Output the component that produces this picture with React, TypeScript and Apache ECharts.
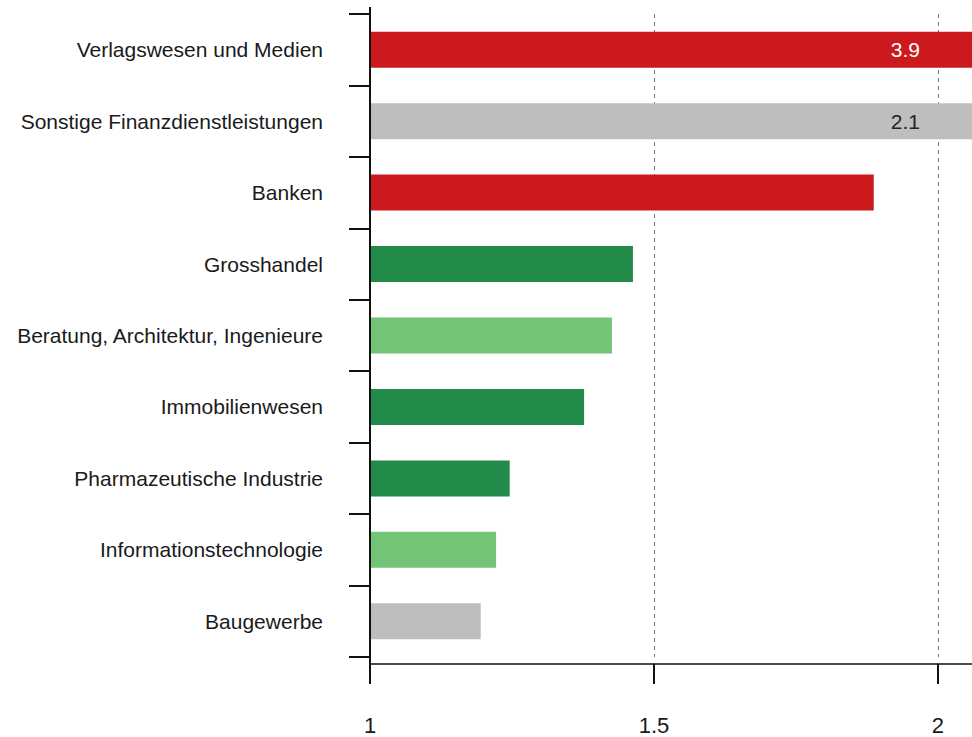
import React, { useEffect, useRef } from "react";
import * as echarts from "echarts";

const categories = [
  "Verlagswesen und Medien",
  "Sonstige Finanzdienstleistungen",
  "Banken",
  "Grosshandel",
  "Beratung, Architektur, Ingenieure",
  "Immobilienwesen",
  "Pharmazeutische Industrie",
  "Informationstechnologie",
  "Baugewerbe",
];
const values = [3.9, 2.1, 1.887, 1.463, 1.426, 1.377, 1.246, 1.222, 1.195];
const colors = [
  "#cc191e",
  "#bebebe",
  "#cc191e",
  "#238b4a",
  "#73c476",
  "#238b4a",
  "#238b4a",
  "#73c476",
  "#bebebe",
];
const labelColors = ["#ffffff", "#222222", "", "", "", "", "", "", ""];
const xTicks = [1, 1.5, 2];
const xMin = 1;
const xMax = 2.06;

export default function App() {
  const ref = useRef<HTMLDivElement>(null);
  useEffect(() => {
    if (!ref.current) return;
    const chart = echarts.init(ref.current, null, { renderer: "svg" });
    const font = "Liberation Sans";
    chart.setOption({
      animation: false,
      backgroundColor: "#ffffff",
      grid: { left: 370, right: 0, top: 14, bottom: 80, containLabel: false },
      xAxis: {
        type: "value",
        min: xMin,
        max: xMax,
        interval: 0.5,
        position: "bottom",
        offset: 7,
        axisLine: { show: true, lineStyle: { color: "#111", width: 1.5 } },
        axisTick: {
          show: true,
          inside: false,
          length: 20,
          customValues: xTicks,
          lineStyle: { color: "#111", width: 2 },
        },
        axisLabel: {
          customValues: xTicks,
          margin: 50,
          fontFamily: font,
          fontSize: 22,
          color: "#1a1a1a",
          formatter: (v: number) => String(v),
        },
        splitLine: {
          show: true,
          showMinLine: false,
          showMaxLine: true,
          lineStyle: { color: "#777", type: [4, 4], width: 1 },
        },
      },
      yAxis: {
        type: "category",
        inverse: true,
        data: categories,
        axisLine: { show: true, lineStyle: { color: "#111", width: 2 } },
        axisTick: {
          show: true,
          inside: false,
          length: 21,
          lineStyle: { color: "#111", width: 2 },
        },
        axisLabel: {
          margin: 47,
          fontFamily: font,
          fontSize: 21,
          color: "#1a1a1a",
        },
        splitLine: { show: false },
      },
      graphic: [
        {
          type: "line",
          shape: { x1: 370, y1: 7, x2: 370, y2: 664 },
          style: { stroke: "#111", lineWidth: 2 },
          z: 10,
        },
      ],
      series: [
        {
          type: "bar",
          barWidth: 36,
          clip: true,
          data: values.map((v, i) => ({
            value: Math.min(v, xMax),
            itemStyle: { color: colors[i] },
            label: labelColors[i]
              ? {
                  show: true,
                  position: "insideRight",
                  distance: 52,
                  color: labelColors[i],
                  fontFamily: font,
                  fontSize: 21,
                  formatter: () => values[i].toFixed(1),
                }
              : { show: false },
          })),
        },
      ],
    });
    return () => chart.dispose();
  }, []);
  return (
    <div
      ref={ref}
      style={{ position: "absolute", left: 0, top: 0, width: 972, height: 737 }}
    />
  );
}
